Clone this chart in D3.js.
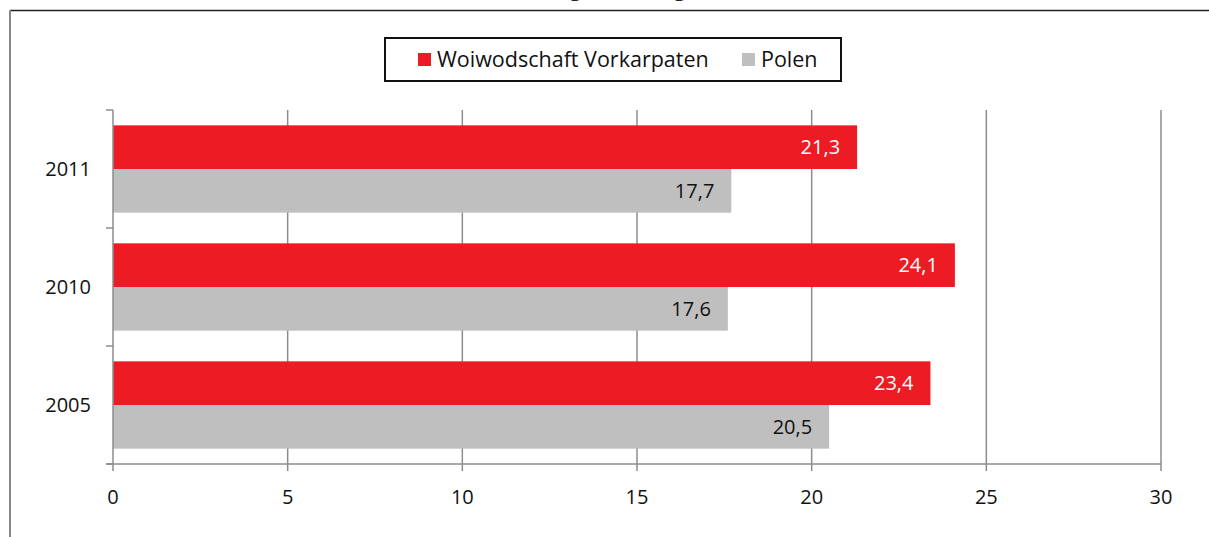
<!DOCTYPE html>
<meta charset="utf-8">
<script src="https://d3js.org/d3.v7.min.js"></script>
<style>
  body { margin: 0; background: #fff; }
  text { font-family: "Open Sans", sans-serif; }
</style>
<div id="my_dataviz"></div>
<script>
  // data
  var years = ["2011", "2010", "2005"];
  var seriesNames = ["Woiwodschaft Vorkarpaten", "Polen"];
  var vorkarpaten = [21.3, 24.1, 23.4];
  var polen = [17.7, 17.6, 20.5];
  var xTicks = [0, 5, 10, 15, 20, 25, 30];
  var colors = ["#ed1c24", "#bfbfbf"];
  var labelColors = ["#ffffff", "#111111"];

  var W = 1209, H = 537;
  var margin = { top: 110, right: 48, bottom: 73, left: 113 },
    width = W - margin.left - margin.right,
    height = H - margin.top - margin.bottom;

  var root = d3.select("#my_dataviz").append("svg")
    .attr("width", W).attr("height", H);

  // title (cut off at the top of the picture, as in the source)
  root.append("text")
    .attr("x", 930).attr("y", -4)
    .attr("text-anchor", "end")
    .style("font-weight", "bold").style("font-size", "20px")
    .attr("fill", "#222")
    .text("Armutsgefährdung nach Sozialtransfers (%)");

  // outer frame
  root.append("line").attr("x1", 10).attr("x2", W).attr("y1", 10.5).attr("y2", 10.5)
    .attr("stroke", "#222").attr("stroke-width", 1.5);
  root.append("line").attr("x1", 10).attr("x2", 10).attr("y1", 10).attr("y2", H)
    .attr("stroke", "#888").attr("stroke-width", 2);

  // legend
  var legend = root.append("g");
  legend.append("rect")
    .attr("x", 385).attr("y", 38).attr("width", 456).attr("height", 43)
    .attr("fill", "#fff").attr("stroke", "#111").attr("stroke-width", 2);
  var legX = [418, 742];
  seriesNames.forEach(function (name, i) {
    legend.append("rect")
      .attr("x", legX[i]).attr("y", 53).attr("width", 13).attr("height", 13)
      .attr("fill", colors[i]);
    legend.append("text")
      .attr("x", legX[i] + 19).attr("y", 59.5)
      .attr("dy", "0.35em")
      .style("font-size", "21.5px").attr("fill", "#111")
      .text(name);
  });

  var svg = root.append("g")
    .attr("transform", "translate(" + margin.left + "," + margin.top + ")");

  var x = d3.scaleLinear().domain([0, 30]).range([0, width]);
  var y = d3.scaleBand().domain(years).range([0, height])
    .paddingInner(0.26).paddingOuter(0.13);
  var ySub = d3.scaleBand().domain([0, 1]).range([0, y.bandwidth()]);

  // vertical gridlines
  svg.selectAll(".grid").data(xTicks.slice(1)).enter().append("line")
    .attr("x1", function (d) { return x(d); })
    .attr("x2", function (d) { return x(d); })
    .attr("y1", 0).attr("y2", height)
    .attr("stroke", "#8c8c8c").attr("stroke-width", 1.5);

  // bars
  var data = years.map(function (yr, i) {
    return { year: yr, values: [vorkarpaten[i], polen[i]] };
  });

  var groups = svg.selectAll(".yr").data(data).enter().append("g")
    .attr("transform", function (d) { return "translate(0," + y(d.year) + ")"; });

  groups.selectAll("rect").data(function (d) { return d.values; }).enter().append("rect")
    .attr("x", x(0))
    .attr("y", function (d, i) { return ySub(i); })
    .attr("width", function (d) { return x(d) - x(0); })
    .attr("height", ySub.bandwidth())
    .attr("fill", function (d, i) { return colors[i]; });

  groups.selectAll(".lbl").data(function (d) { return d.values; }).enter().append("text")
    .attr("x", function (d) { return x(d) - 17; })
    .attr("y", function (d, i) { return ySub(i) + ySub.bandwidth() / 2; })
    .attr("dy", "0.35em")
    .attr("text-anchor", "end")
    .style("font-size", "20px")
    .attr("fill", function (d, i) { return labelColors[i]; })
    .text(function (d) { return d.toFixed(1).replace(".", ","); });

  // y axis
  var yAxis = svg.append("g");
  yAxis.append("line").attr("x1", 0).attr("x2", 0).attr("y1", 0).attr("y2", height)
    .attr("stroke", "#8c8c8c").attr("stroke-width", 1.5);
  var step = y.step();
  var yBounds = d3.range(years.length + 1).map(function (i) { return i * step; });
  yAxis.selectAll(".tick").data(yBounds).enter().append("line")
    .attr("x1", -7).attr("x2", 0)
    .attr("y1", function (d) { return d; }).attr("y2", function (d) { return d; })
    .attr("stroke", "#8c8c8c").attr("stroke-width", 1.5);
  yAxis.selectAll(".ylbl").data(years).enter().append("text")
    .attr("x", -22)
    .attr("y", function (d) { return y(d) + y.bandwidth() / 2; })
    .attr("dy", "0.35em")
    .attr("text-anchor", "end")
    .style("font-size", "20px").attr("fill", "#111")
    .text(function (d) { return d; });

  // x axis
  var xAxis = svg.append("g").attr("transform", "translate(0," + height + ")");
  xAxis.append("line").attr("x1", -7).attr("x2", width).attr("y1", 0).attr("y2", 0)
    .attr("stroke", "#8c8c8c").attr("stroke-width", 1.5);
  xAxis.selectAll(".xt").data(xTicks).enter().append("line")
    .attr("x1", function (d) { return x(d); }).attr("x2", function (d) { return x(d); })
    .attr("y1", 0).attr("y2", 7)
    .attr("stroke", "#8c8c8c").attr("stroke-width", 1.5);
  xAxis.selectAll(".xl").data(xTicks).enter().append("text")
    .attr("x", function (d) { return x(d); })
    .attr("y", 33)
    .attr("dy", "0.35em")
    .attr("text-anchor", "middle")
    .style("font-size", "20px").attr("fill", "#111")
    .text(function (d) { return d; });
</script>
